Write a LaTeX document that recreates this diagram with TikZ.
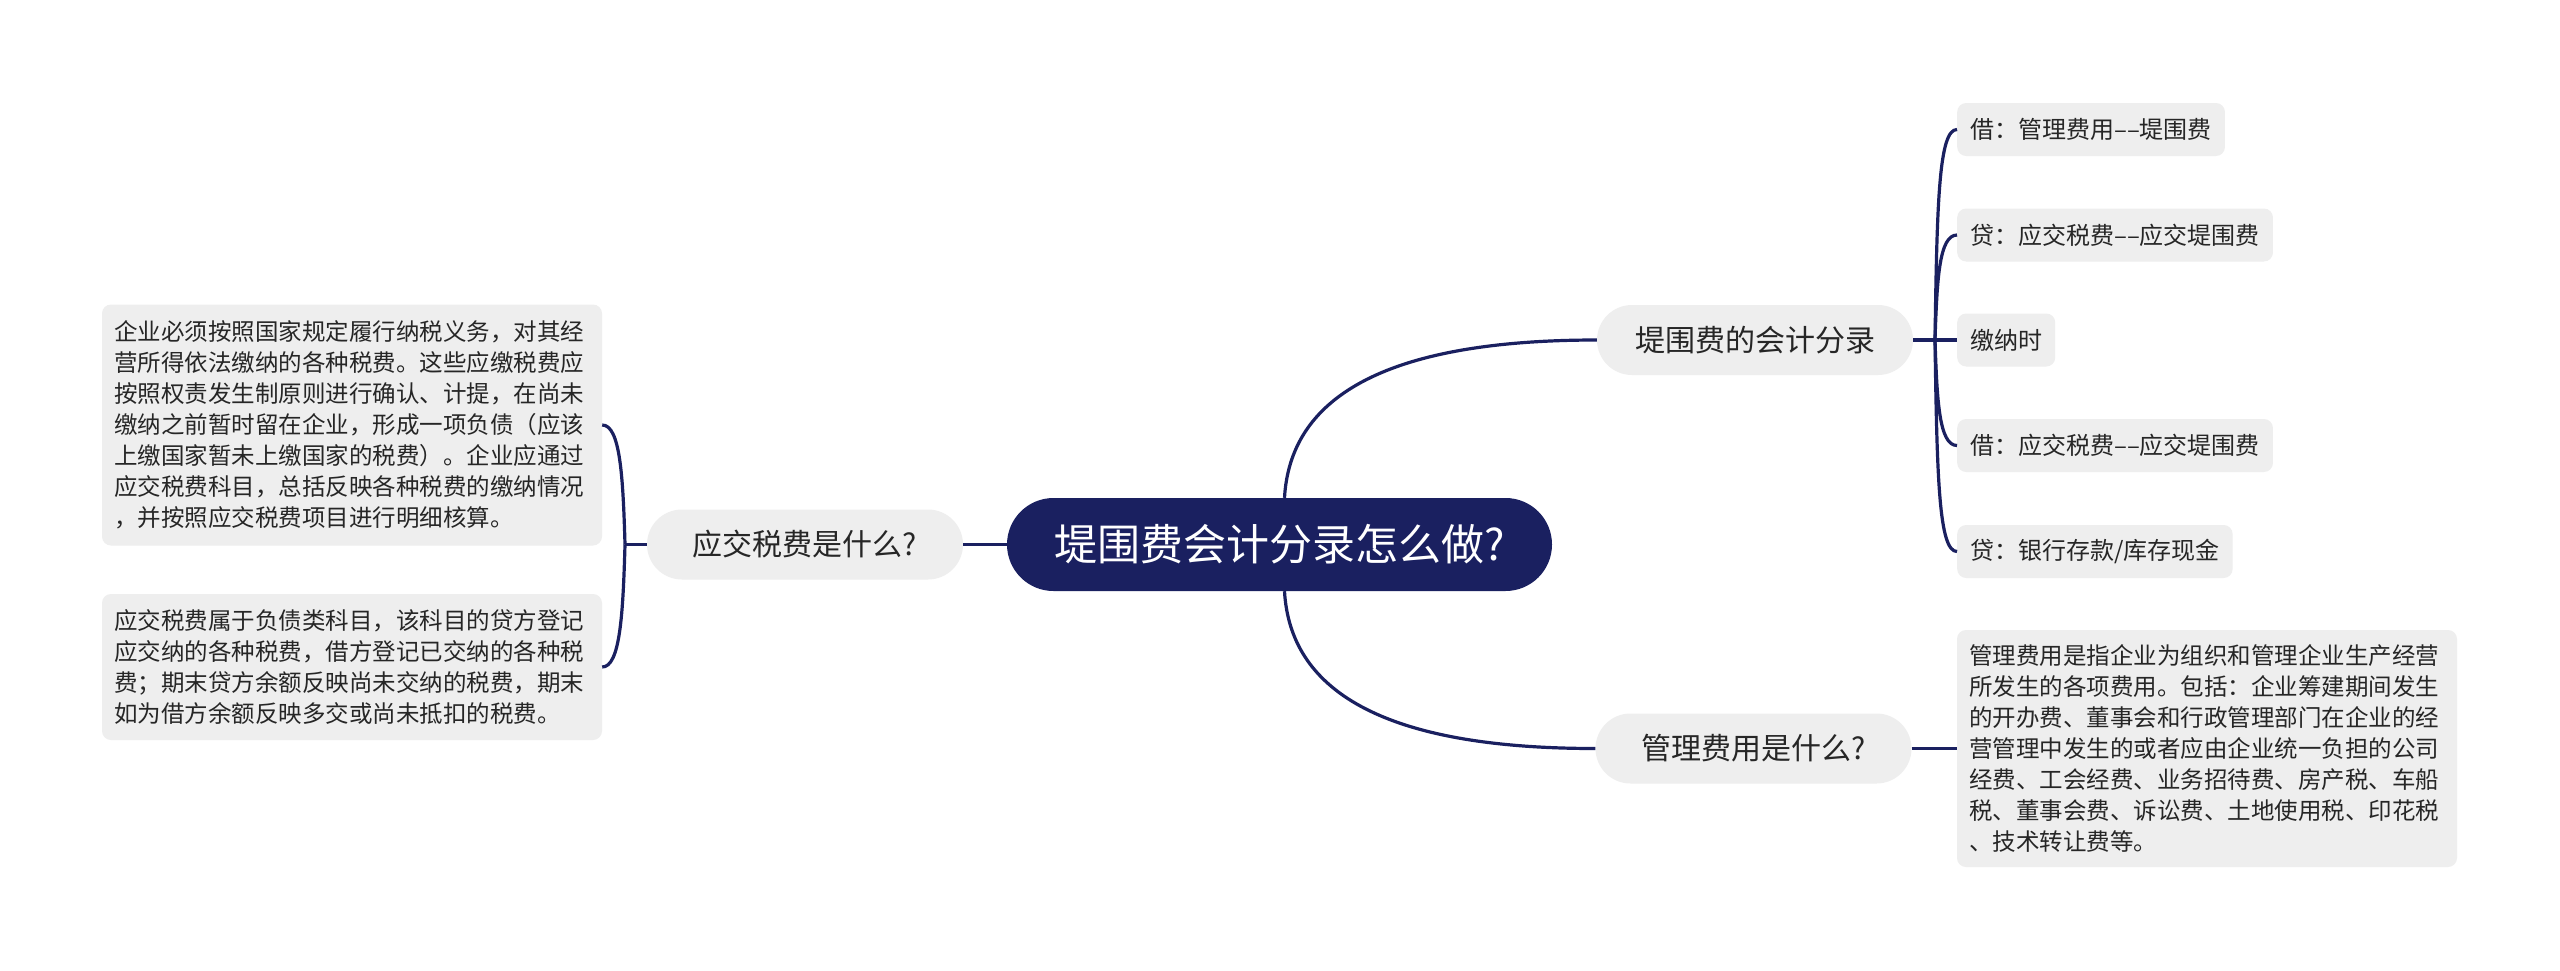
\documentclass[tikz,border=0pt]{standalone}
\usepackage{fontspec}
\setmainfont{Noto Sans CJK SC}
\definecolor{navy}{HTML}{1A2060}
\definecolor{boxgray}{HTML}{EEEEEE}
\definecolor{txt}{HTML}{262626}
\begin{document}
\begin{tikzpicture}[x=1pt,y=-1pt,
  conn/.style={draw=navy,line width=3.2pt},
  rootnode/.style={fill=navy,text=white,rounded corners=46.5pt,minimum width=545pt,minimum height=93pt,inner sep=0pt,font=\fontsize{43}{50}\selectfont},
  topic/.style={fill=boxgray,text=txt,rounded corners=35pt,minimum width=316pt,minimum height=70pt,inner sep=0pt,font=\fontsize{30}{36}\selectfont},
  leaf/.style={fill=boxgray,text=txt,rounded corners=9pt,minimum height=53pt,inner xsep=13pt,inner ysep=0pt,anchor=west,font=\fontsize{24}{30}\selectfont},
  para/.style={fill=boxgray,text=txt,rounded corners=9pt,minimum width=500pt,inner xsep=12pt,text width=476pt,align=left,font=\fontsize{23.5}{31}\selectfont},
]
\fill[white] (0,0) rectangle (2560,970);
\useasboundingbox (0,0) rectangle (2560,970);

\node[rootnode] (root) at (1279.5,544.5) {堤围费会计分录怎么做?};
\node[topic] (q1) at (805,544.5) {应交税费是什么?};
\node[topic] (t1) at (1755,340) {堤围费的会计分录};
\node[topic] (t2) at (1753.5,748.5) {管理费用是什么?};

\node[para,minimum height=241pt] (l1) at (352,425) {企业必须按照国家规定履行纳税义务，对其经\\
营所得依法缴纳的各种税费。这些应缴税费应\\
按照权责发生制原则进行确认、计提，在尚未\\
缴纳之前暂时留在企业，形成一项负债（应该\\
上缴国家暂未上缴国家的税费）。企业应通过\\
应交税费科目，总括反映各种税费的缴纳情况\\
，并按照应交税费项目进行明细核算。};
\node[para,minimum height=146pt] (l2) at (352,667) {应交税费属于负债类科目，该科目的贷方登记\\
应交纳的各种税费，借方登记已交纳的各种税\\
费；期末贷方余额反映尚未交纳的税费，期末\\
如为借方余额反映多交或尚未抵扣的税费。};

\node[leaf] (r1) at (1957,129.5) {借：管理费用––堤围费};
\node[leaf] (r2) at (1957,235) {贷：应交税费––应交堤围费};
\node[leaf] (r3) at (1957,340) {缴纳时};
\node[leaf] (r4) at (1957,445.5) {借：应交税费––应交堤围费};
\node[leaf] (r5) at (1957,551.5) {贷：银行存款/库存现金};

\node[para,minimum height=237pt] (rb) at (2207,748.5) {管理费用是指企业为组织和管理企业生产经营\\
所发生的各项费用。包括：企业筹建期间发生\\
的开办费、董事会和行政管理部门在企业的经\\
营管理中发生的或者应由企业统一负担的公司\\
经费、工会经费、业务招待费、房产税、车船\\
税、董事会费、诉讼费、土地使用税、印花税\\
、技术转让费等。};

\draw[conn] (root.west) -- (q1.east);
\coordinate (jl) at (625,544.5);
\draw[conn] (q1.west) -- (jl);
\draw[conn] (jl) .. controls (623,475) and (620,425) .. (l1.east);
\draw[conn] (jl) .. controls (623,615) and (620,667) .. (l2.east);

\draw[conn] ([xshift=5pt]root.north) .. controls (1290,400) and (1380,340) .. (t1.west);
\draw[conn] ([xshift=5pt]root.south) .. controls (1290,689) and (1380,748.5) .. (t2.west);

\coordinate (jr) at (1935,340);
\draw[conn] (t1.east) -- (r3.west);
\draw[conn] (jr) .. controls (1937,200) and (1939,129.5) .. (r1.west);
\draw[conn] (jr) .. controls (1937,280) and (1939,235) .. (r2.west);
\draw[conn] (jr) .. controls (1937,400) and (1939,445.5) .. (r4.west);
\draw[conn] (jr) .. controls (1937,480) and (1939,551.5) .. (r5.west);

\draw[conn] (t2.east) -- (rb.west);
\end{tikzpicture}
\end{document}
